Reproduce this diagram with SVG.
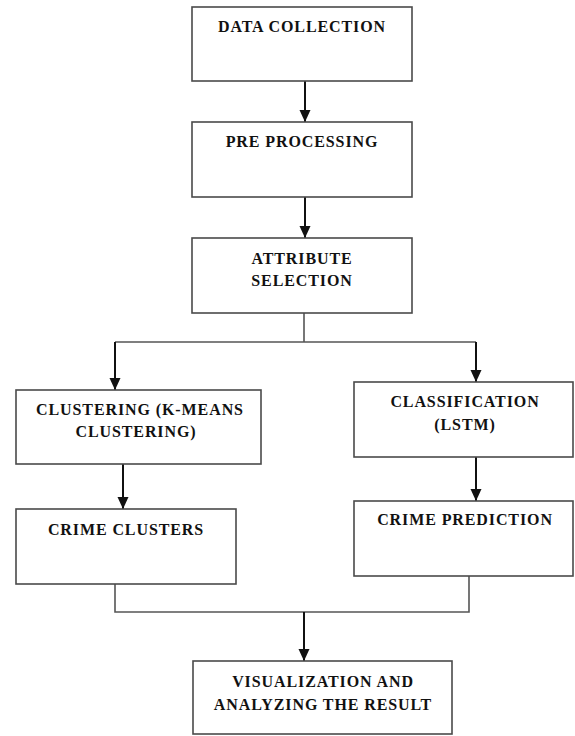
<svg xmlns="http://www.w3.org/2000/svg" width="575" height="736" viewBox="0 0 575 736">
<style>
.box{fill:#fff;stroke:#4a4a4a;stroke-width:1.6}
.lbl{font-family:"Liberation Serif","Times New Roman",serif;font-weight:bold;font-size:16px;letter-spacing:0.9px;fill:#111;text-anchor:middle}
.ln{fill:none;stroke:#555;stroke-width:1.6}
.ar{fill:none;stroke:#111;stroke-width:2}
</style>
<defs>
<marker id="tri" markerUnits="userSpaceOnUse" markerWidth="12" markerHeight="12" viewBox="0 0 12 12" refX="12" refY="6" orient="auto">
<path d="M0,0.5 L12,6 L0,11.5 Z" fill="#111"/>
</marker>
</defs>
<rect width="575" height="736" fill="#fff"/>
<g id="connectors">
<line class="ar" x1="305" y1="81" x2="305" y2="122" marker-end="url(#tri)"/>
<line class="ar" x1="305" y1="197" x2="305" y2="238" marker-end="url(#tri)"/>
<polyline class="ln" points="304,313 304,342"/>
<polyline class="ln" points="115,342 476,342"/>
<line class="ar" x1="115" y1="342" x2="115" y2="390" marker-end="url(#tri)"/>
<line class="ar" x1="476" y1="342" x2="476" y2="382" marker-end="url(#tri)"/>
<line class="ar" x1="123" y1="464" x2="123" y2="509" marker-end="url(#tri)"/>
<line class="ar" x1="476" y1="457" x2="476" y2="501" marker-end="url(#tri)"/>
<polyline class="ln" points="115,584 115,612 469,612 469,576"/>
<line class="ar" x1="304" y1="612" x2="304" y2="661" marker-end="url(#tri)"/>
</g>
<g id="n1"><rect class="box" x="192" y="7" width="220" height="74"/><text class="lbl" x="302" y="32">DATA COLLECTION</text></g>
<g id="n2"><rect class="box" x="192" y="122" width="220" height="75"/><text class="lbl" x="302" y="147">PRE PROCESSING</text></g>
<g id="n3"><rect class="box" x="192" y="238" width="220" height="75"/><text class="lbl" x="302" y="264">ATTRIBUTE</text><text class="lbl" x="302" y="286">SELECTION</text></g>
<g id="n4"><rect class="box" x="16" y="390" width="245" height="74"/><text class="lbl" x="140" y="415">CLUSTERING (K-MEANS</text><text class="lbl" x="136" y="437">CLUSTERING)</text></g>
<g id="n5"><rect class="box" x="354" y="382" width="219" height="75"/><text class="lbl" x="465" y="407">CLASSIFICATION</text><text class="lbl" x="465" y="430">(LSTM)</text></g>
<g id="n6"><rect class="box" x="16" y="509" width="220" height="75"/><text class="lbl" x="126" y="535">CRIME CLUSTERS</text></g>
<g id="n7"><rect class="box" x="354" y="501" width="219" height="75"/><text class="lbl" x="465" y="525">CRIME PREDICTION</text></g>
<g id="n8"><rect class="box" x="193" y="661" width="259" height="73"/><text class="lbl" x="323" y="687">VISUALIZATION AND</text><text class="lbl" x="323" y="710">ANALYZING THE RESULT</text></g>
</svg>
